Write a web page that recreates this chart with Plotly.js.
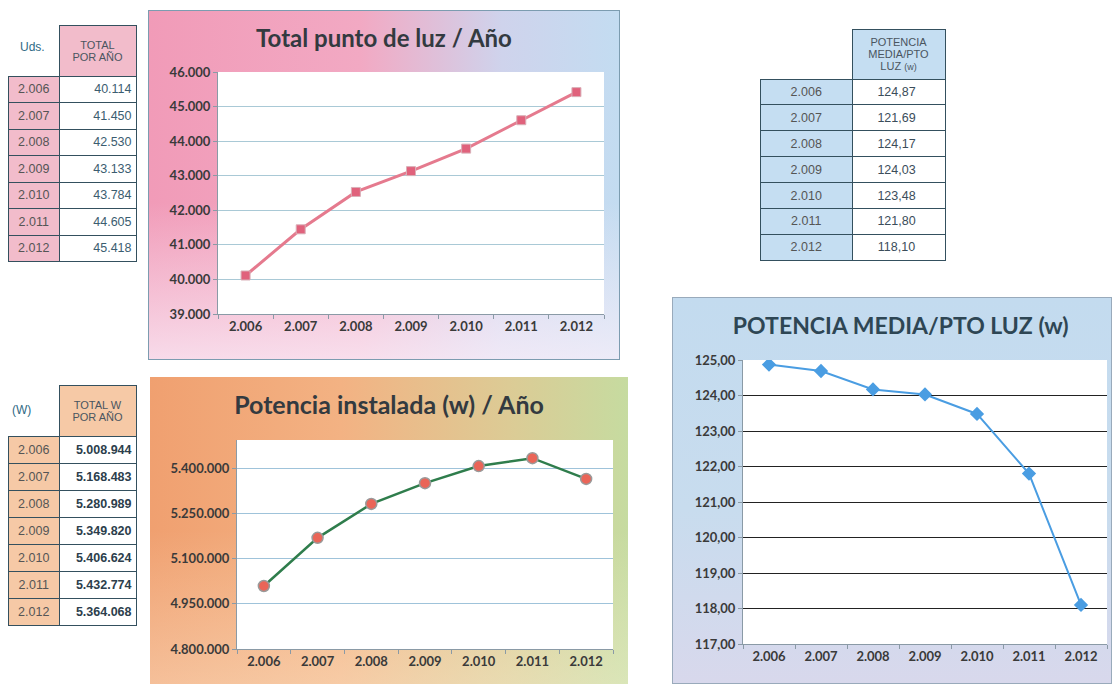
<!DOCTYPE html>
<html>
<head>
<meta charset="utf-8">
<script src="https://cdn.plot.ly/plotly-3.0.1.min.js"></script>
<style>
  html, body { margin:0; padding:0; background:#ffffff; width:1112px; height:684px; overflow:hidden; position:relative; }
  .frame { position:absolute; box-sizing:border-box; }
  #f1 { left:148px; top:10px; width:472px; height:350px; border:1px solid #7c9cb0;
        background: linear-gradient(to right, #f19bb8 0%, #f2a9c3 45%, #cfd3ec 75%, #c3dcf1 100%); }
  #f1::after { content:""; position:absolute; left:0; top:0; right:0; bottom:0;
        background: linear-gradient(to bottom, rgba(255,255,255,0) 55%, rgba(250,240,250,0.75) 100%); }
  #f2 { left:150px; top:377px; width:478px; height:307px;
        background: linear-gradient(to right, #f0a070 0%, #f3b283 40%, #dccb95 75%, #c6dba0 100%); }
  #f2::after { content:""; position:absolute; left:0; top:0; right:0; bottom:0;
        background: linear-gradient(to bottom, rgba(255,255,255,0) 50%, rgba(255,250,230,0.35) 100%); }
  #f3 { left:672px; top:297px; width:440px; height:387px; border:1px solid #9ab;
        background: linear-gradient(to bottom, #c3dbef 0%, #c8dcee 55%, #d8d8ec 100%); }
  .plot { position:absolute; left:0; top:0; width:100%; height:100%; z-index:2; }
  table.t { position:absolute; border-collapse:collapse; font-family:"Liberation Sans", Arial, sans-serif; font-size:12.5px; }
  table.t td { border:1.5px solid #34505e; padding:0; }
  .lbl { position:absolute; font-family:"Liberation Sans", Arial, sans-serif; font-size:12px; color:#2f6a85; }
</style>
</head>
<body>
<div class="frame" id="f1"><div class="plot" id="c1"></div></div>
<div class="frame" id="f2"><div class="plot" id="c2"></div></div>
<div class="frame" id="f3"><div class="plot" id="c3"></div></div>

<div class="lbl" style="left:20px;top:40px;">Uds.</div>
<div class="lbl" style="left:12px;top:403px;">(W)</div>
<table class="t" id="t1" style="left:8px;top:25px;"></table>
<table class="t" id="t2" style="left:8px;top:385px;"></table>
<table class="t" id="t3" style="left:760px;top:29px;"></table>

<script>
// ---------- DATA ----------
const years = ["2.006", "2.007", "2.008", "2.009", "2.010", "2.011", "2.012"];
const puntosLuz = [40114, 41450, 42530, 43133, 43784, 44605, 45418];
const potenciaInstalada = [5008944, 5168483, 5280989, 5349820, 5406624, 5432774, 5364068];
const potenciaMedia = [124.87, 124.69, 124.17, 124.03, 123.48, 121.80, 118.10];
const puntosLuzText = ["40.114", "41.450", "42.530", "43.133", "43.784", "44.605", "45.418"];
const potenciaText = ["5.008.944", "5.168.483", "5.280.989", "5.349.820", "5.406.624", "5.432.774", "5.364.068"];
const mediaText = ["124,87", "121,69", "124,17", "124,03", "123,48", "121,80", "118,10"];
const yTicks1 = [39000, 40000, 41000, 42000, 43000, 44000, 45000, 46000];
const yTicks2 = [4800000, 4950000, 5100000, 5250000, 5400000];
const yTicks3 = [117, 118, 119, 120, 121, 122, 123, 124, 125];

// ---------- TABLES ----------
function buildTable(id, headerHtml, vals, yearFill, headerFill, colW, headW, headH, rowH, valStyle) {
  const t = document.getElementById(id);
  let h = '<tr><td style="border:none;width:' + colW + 'px;height:' + headH + 'px;"></td>' +
          '<td style="background:' + headerFill + ';width:' + headW + 'px;text-align:center;font-size:11px;line-height:12px;color:#4a5560;">' + headerHtml + '</td></tr>';
  for (let i = 0; i < years.length; i++) {
    h += '<tr><td style="background:' + yearFill + ';height:' + rowH + 'px;text-align:center;color:#555;">' + years[i] + '</td>' +
         '<td style="background:#fff;text-align:' + (valStyle.align || 'right') + ';padding-right:4px;color:' + valStyle.color + ';font-weight:' + valStyle.weight + ';">' + vals[i] + '</td></tr>';
  }
  t.innerHTML = h;
}
buildTable('t1', 'TOTAL<br>POR AÑO', puntosLuzText, '#f2bccb', '#f2bccb', 50, 76, 50, 25.5, {color:'#3b5d70', weight:'normal'});
buildTable('t2', 'TOTAL W<br>POR AÑO', potenciaText, '#f6c9a6', '#f6c9a6', 50, 76, 50, 26, {color:'#2c3e4c', weight:'bold'});
buildTable('t3', 'POTENCIA<br>MEDIA/PTO<br>LUZ <span style="font-size:9px">(w)</span>', mediaText, '#c5def2', '#c5def2', 91, 92, 49, 24.9, {color:'#3b4d5a', weight:'normal', align:'center'});

// ---------- CHARTS ----------
const font = "Lato, 'Open Sans', sans-serif";
function baseLayout(title, titleY, titleSize, margin, gridColor, yTicks, yRange, tickText) {
  return {
    paper_bgcolor: 'rgba(0,0,0,0)',
    plot_bgcolor: '#ffffff',
    separators: ',.',
    showlegend: false,
    margin: margin,
    title: { text: title, x: 0.5, xref: 'container', y: titleY, yref: 'container', yanchor: 'middle',
             font: { family: font, size: titleSize, color: '#333a40', weight: 'bold' } },
    xaxis: { type: 'category', range: [-0.5, 6.5], showgrid: false, showline: true, linecolor: '#8a9aa6',
             ticks: 'outside', tickson: 'boundaries', ticklen: 4, tickcolor: '#8a9aa6',
             tickfont: { family: font, size: 13, color: '#3a3a3a', weight: 'bold' }, fixedrange: true },
    yaxis: { range: yRange, tickvals: yTicks, ticktext: tickText, showgrid: true, gridcolor: gridColor, gridwidth: 1,
             showline: true, linecolor: '#8a9aa6', ticks: 'outside', ticklen: 4, tickcolor: '#8a9aa6', zeroline: false,
             tickfont: { family: font, size: 13, color: '#3a3a3a', weight: 'bold' }, fixedrange: true }
  };
}
const fmtInt = v => Math.round(v).toString().replace(/\B(?=(\d{3})+(?!\d))/g, '.');
const fmtDec = v => v.toFixed(2).replace('.', ',');

Plotly.newPlot('c1', [{
  x: years, y: puntosLuz, type: 'scatter', mode: 'lines+markers',
  line: { color: '#e57a8e', width: 3 },
  marker: { symbol: 'square', size: 9, color: '#e0627c', line: { color: '#d9b0b8', width: 1 } }
}], baseLayout('Total punto de luz / Año', 0.92, 24, { l: 69, r: 15, t: 61, b: 45 }, '#a9c9d6',
   yTicks1, [39000, 46000], yTicks1.map(fmtInt)), { staticPlot: true });

Plotly.newPlot('c2', [{
  x: years, y: potenciaInstalada, type: 'scatter', mode: 'lines+markers',
  line: { color: '#2f7d4c', width: 2.5 },
  marker: { symbol: 'circle', size: 11, color: '#ea6558', line: { color: '#9a9a9a', width: 1.5 } }
}], baseLayout('Potencia instalada (w) / Año', 0.909, 25, { l: 87, r: 15, t: 63, b: 35 }, '#9fc3da',
   yTicks2, [4800000, 5493000], yTicks2.map(fmtInt)), { staticPlot: true });

Plotly.newPlot('c3', [{
  x: years, y: potenciaMedia, type: 'scatter', mode: 'lines+markers',
  line: { color: '#4a9de2', width: 2 },
  marker: { symbol: 'diamond', size: 11, color: '#4a9de2' }
}], (function () {
  const l = baseLayout('POTENCIA MEDIA/PTO LUZ (w)', 0.928, 23, { l: 70, r: 4, t: 62, b: 39 }, '#222222',
     yTicks3, [117, 125], yTicks3.map(fmtDec));
  l.title.x = 0.52;
  l.title.font.color = '#2e4654';
  return l;
})(), { staticPlot: true });
</script>
</body>
</html>
